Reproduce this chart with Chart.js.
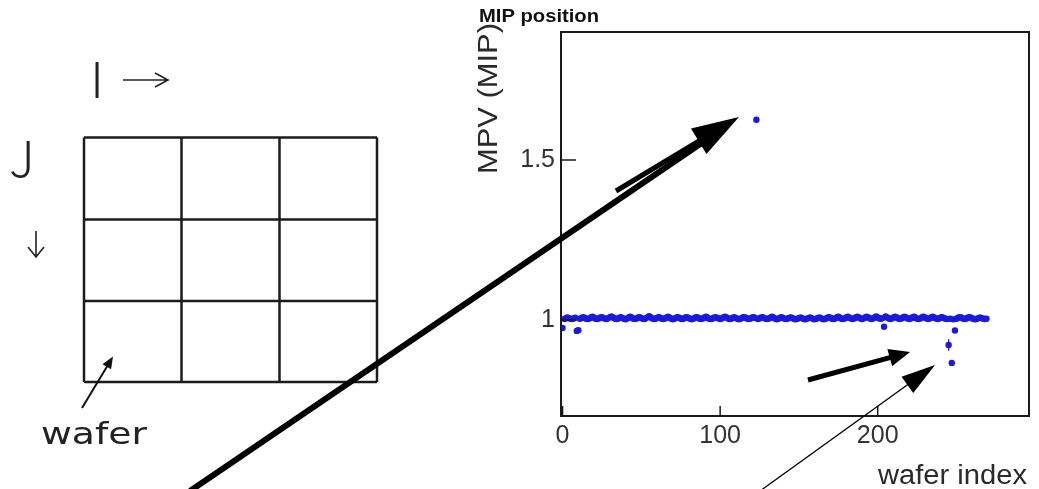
<!DOCTYPE html>
<html>
<head>
<meta charset="utf-8">
<script src="https://cdn.jsdelivr.net/npm/chart.js@4.4.1/dist/chart.umd.min.js"></script>
<style>
  html, body { margin: 0; padding: 0; background: #fff; }
  canvas { display: block; }
</style>
</head>
<body>
<canvas id="graph01" width="1039" height="489"></canvas>
<script>
// MPV per wafer, wafer index = position in the array (9 wafers per row below)
const mpv = [
  0.975, 1.003, 1.005, 1.008, 1.006, 1.004, 1.003, 1.005, 1.007,
  0.966, 0.968, 1.004, 1.006, 1.009, 1.007, 1.004, 1.003, 1.005,
  1.008, 1.010, 1.007, 1.004, 1.003, 1.005, 1.008, 1.009, 1.006,
  1.004, 1.003, 1.006, 1.009, 1.011, 1.008, 1.005, 1.003, 1.004,
  1.007, 1.009, 1.006, 1.004, 1.002, 1.005, 1.008, 1.010, 1.007,
  1.004, 1.003, 1.005, 1.008, 1.009, 1.006, 1.004, 1.003, 1.006,
  1.009, 1.012, 1.008, 1.005, 1.003, 1.004, 1.007, 1.009, 1.007,
  1.004, 1.003, 1.005, 1.008, 1.010, 1.007, 1.004, 1.002, 1.004,
  1.007, 1.009, 1.007, 1.004, 1.003, 1.005, 1.008, 1.009, 1.006,
  1.004, 1.002, 1.004, 1.007, 1.009, 1.007, 1.004, 1.003, 1.005,
  1.008, 1.010, 1.007, 1.004, 1.003, 1.004, 1.007, 1.009, 1.007,
  1.005, 1.003, 1.005, 1.008, 1.010, 1.008, 1.005, 1.003, 1.004,
  1.007, 1.009, 1.006, 1.004, 1.002, 1.004, 1.007, 1.009, 1.008,
  1.005, 1.003, 1.004, 1.007, 1.009, 1.007, 1.626, 1.003, 1.005,
  1.008, 1.009, 1.006, 1.004, 1.003, 1.005, 1.008, 1.010, 1.007,
  1.004, 1.002, 1.004, 1.007, 1.009, 1.006, 1.004, 1.003, 1.005,
  1.007, 1.008, 1.006, 1.003, 1.002, 1.004, 1.006, 1.008, 1.006,
  1.003, 1.002, 1.004, 1.006, 1.008, 1.006, 1.003, 1.002, 1.004,
  1.006, 1.008, 1.006, 1.003, 1.002, 1.004, 1.007, 1.009, 1.007,
  1.004, 1.003, 1.005, 1.008, 1.010, 1.007, 1.004, 1.003, 1.005,
  1.008, 1.010, 1.007, 1.005, 1.003, 1.005, 1.008, 1.010, 1.008,
  1.005, 1.003, 1.005, 1.008, 1.010, 1.008, 1.005, 1.003, 1.005,
  1.008, 1.011, 1.008, 1.005, 1.004, 1.006, 0.979, 1.011, 1.008,
  1.005, 1.003, 1.005, 1.008, 1.010, 1.008, 1.005, 1.003, 1.005,
  1.008, 1.010, 1.008, 1.005, 1.003, 1.005, 1.008, 1.010, 1.007,
  1.004, 1.003, 1.005, 1.008, 1.010, 1.008, 1.005, 1.003, 1.005,
  1.008, 1.010, 1.007, 1.005, 1.003, 1.005, 1.008, 1.009, 1.006,
  1.004, 1.003, 0.922, 1.004, 0.866, 1.002, 0.967, 1.004, 1.007,
  1.009, 1.008, 1.005, 1.003, 1.004, 1.007, 1.009, 1.008, 1.005,
  1.003, 1.002, 1.004, 1.006, 1.008, 1.006, 1.004, 1.003, 1.004
];

// [wafer index, half error]
const errorBars = [[245, 0.018]];

const xTicks = [0, 100, 200];
const yTicks = [1, 1.5];

const DOT = 'rgb(26, 26, 220)';
const INK = '#1c1c1c';
const AXIS_FONT = '"Liberation Sans", Arial, Helvetica, sans-serif';

const canvas = document.getElementById('graph01');

// draw text squeezed/stretched to a given width
function fitText(ctx, text, x, y, width) {
    const w = ctx.measureText(text).width;
    ctx.save();
    ctx.translate(x, y);
    ctx.scale(width / w, 1);
    ctx.fillText(text, 0, 0);
    ctx.restore();
}

function drawArrow(ctx, x0, y0, x1, y1, lineW, headLen, headHalf) {
    const dx = x1 - x0, dy = y1 - y0;
    const len = Math.hypot(dx, dy);
    const ux = dx / len, uy = dy / len;
    const bx = x1 - ux * headLen, by = y1 - uy * headLen;
    ctx.lineWidth = lineW;
    ctx.beginPath();
    ctx.moveTo(x0, y0);
    ctx.lineTo(bx + ux, by + uy);
    ctx.stroke();
    ctx.beginPath();
    ctx.moveTo(x1, y1);
    ctx.lineTo(bx - uy * headHalf, by + ux * headHalf);
    ctx.lineTo(bx + uy * headHalf, by - ux * headHalf);
    ctx.closePath();
    ctx.fill();
}

// 3x3 wafer layout on the left
const layoutSketch = {
    id: 'layoutSketch',
    beforeDraw(chart) {
        const ctx = chart.ctx;
        ctx.save();
        ctx.fillStyle = '#fff';
        ctx.fillRect(0, 0, chart.width, chart.height);

        ctx.strokeStyle = INK;
        ctx.lineWidth = 2.5;
        const cols = [84, 181.5, 279.5, 377];
        const rows = [137.5, 219.5, 301, 382];
        cols.forEach(x => {
            ctx.beginPath(); ctx.moveTo(x, rows[0]); ctx.lineTo(x, rows[3]); ctx.stroke();
        });
        rows.forEach(y => {
            ctx.beginPath(); ctx.moveTo(cols[0], y); ctx.lineTo(cols[3], y); ctx.stroke();
        });

        ctx.fillStyle = '#222';
        ctx.textAlign = 'center';
        ctx.textBaseline = 'alphabetic';
        ctx.font = '300 50px "Noto Sans CJK JP", "DejaVu Sans", sans-serif';
        ctx.fillText('I', 97, 98);
        ctx.fillText('J', 22, 177);

        ctx.textAlign = 'left';
        ctx.font = '30px "DejaVu Sans", sans-serif';
        fitText(ctx, 'wafer', 41, 444, 106);

        // direction arrows
        ctx.strokeStyle = '#222';
        ctx.lineWidth = 1.6;
        ctx.beginPath();
        ctx.moveTo(123, 80); ctx.lineTo(168, 80);
        ctx.moveTo(155, 73); ctx.lineTo(168, 80); ctx.lineTo(155, 87);
        ctx.moveTo(36, 231); ctx.lineTo(36, 257);
        ctx.moveTo(28, 247); ctx.lineTo(36, 257); ctx.lineTo(44, 247);
        ctx.stroke();

        ctx.fillStyle = '#111';
        ctx.strokeStyle = '#111';
        drawArrow(ctx, 82, 408, 113, 356.5, 2, 12, 5);
        ctx.restore();
    }
};

// error bars under the markers
const errorBarPlugin = {
    id: 'errorBarPlugin',
    beforeDatasetsDraw(chart) {
        const ctx = chart.ctx;
        const xs = chart.scales.x, ys = chart.scales.y;
        ctx.save();
        ctx.strokeStyle = DOT;
        ctx.lineWidth = 1.2;
        errorBars.forEach(([i, e]) => {
            const px = xs.getPixelForValue(i);
            ctx.beginPath();
            ctx.moveTo(px, ys.getPixelForValue(mpv[i] - e));
            ctx.lineTo(px, ys.getPixelForValue(mpv[i] + e));
            ctx.stroke();
        });
        ctx.restore();
    }
};

// frame, inward ticks, titles and the overlaid arrows
const frameAndNotes = {
    id: 'frameAndNotes',
    afterDraw(chart) {
        const ctx = chart.ctx;
        const a = chart.chartArea;
        const xs = chart.scales.x, ys = chart.scales.y;
        ctx.save();

        ctx.strokeStyle = '#1a1a1a';
        ctx.lineWidth = 2;
        ctx.strokeRect(a.left, a.top, a.right - a.left, a.bottom - a.top);

        ctx.lineWidth = 1.5;
        ctx.beginPath();
        xTicks.forEach(v => {
            const px = xs.getPixelForValue(v);
            ctx.moveTo(px, a.bottom); ctx.lineTo(px, a.bottom - 10);
        });
        yTicks.forEach(v => {
            const py = ys.getPixelForValue(v);
            ctx.moveTo(a.left, py); ctx.lineTo(a.left + 15, py);
        });
        ctx.stroke();

        ctx.fillStyle = '#111';
        ctx.textAlign = 'left';
        ctx.textBaseline = 'alphabetic';
        ctx.font = 'bold 19px ' + AXIS_FONT;
        fitText(ctx, 'MIP position', 479, 22, 120);

        ctx.fillStyle = '#2a2a2a';
        ctx.font = '27px ' + AXIS_FONT;
        fitText(ctx, 'wafer index', 878, 484, 149);

        ctx.save();
        ctx.translate(497, 174);
        ctx.rotate(-Math.PI / 2);
        ctx.font = '28px ' + AXIS_FONT;
        fitText(ctx, 'MPV (MIP)', 0, 0, 151);
        ctx.restore();

        // pointer arrows
        ctx.fillStyle = '#000';
        ctx.strokeStyle = '#000';
        ctx.lineCap = 'butt';
        ctx.lineWidth = 6;
        ctx.beginPath();
        ctx.moveTo(190, 491);
        ctx.lineTo(712, 136);
        ctx.stroke();
        drawArrow(ctx, 616, 191, 739, 117, 5, 47, 15);
        drawArrow(ctx, 808, 380, 910, 352, 5, 21, 9);
        drawArrow(ctx, 760, 491, 935, 365, 1.3, 34, 10);

        ctx.restore();
    }
};

new Chart(canvas, {
    type: 'scatter',
    data: {
        datasets: [{
            label: 'MIP position',
            data: mpv.map((v, i) => ({ x: i, y: v })),
            backgroundColor: DOT,
            borderWidth: 0,
            pointRadius: 3.2,
            pointHoverRadius: 3.2
        }]
    },
    options: {
        responsive: false,
        animation: false,
        events: [],
        layout: { padding: { top: 32, right: 10, left: 0, bottom: 0 } },
        plugins: {
            legend: { display: false },
            tooltip: { enabled: false }
        },
        scales: {
            x: {
                type: 'linear',
                min: -1,
                max: 296,
                grid: { display: false, drawTicks: false },
                border: { display: false },
                afterBuildTicks: s => { s.ticks = xTicks.map(v => ({ value: v })); },
                afterFit: s => { s.height = 73; },
                ticks: {
                    font: { family: AXIS_FONT, size: 25 },
                    color: '#333',
                    padding: 5,
                    maxRotation: 0,
                    callback: v => String(v)
                }
            },
            y: {
                type: 'linear',
                min: 0.7,
                max: 1.9,
                grid: { display: false, drawTicks: false },
                border: { display: false },
                afterBuildTicks: s => { s.ticks = yTicks.map(v => ({ value: v })); },
                afterFit: s => { s.width = 561; },
                ticks: {
                    font: { family: AXIS_FONT, size: 25 },
                    color: '#333',
                    padding: 6,
                    callback: v => String(v)
                }
            }
        }
    },
    plugins: [layoutSketch, errorBarPlugin, frameAndNotes]
});
</script>
</body>
</html>
